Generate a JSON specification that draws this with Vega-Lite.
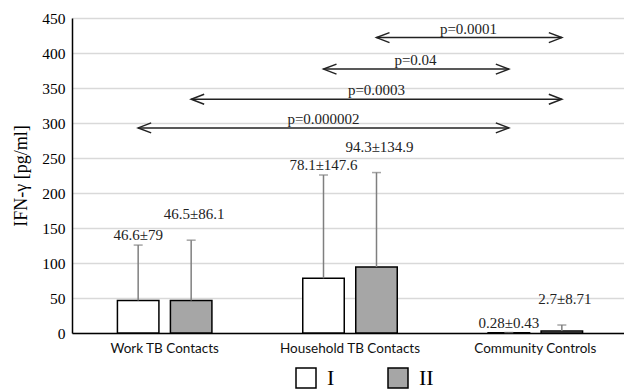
{
  "$schema": "https://vega.github.io/schema/vega-lite/v6.json",
  "width": 556,
  "height": 315,
  "autosize": "none",
  "padding": {"left": 72, "top": 18, "right": 0, "bottom": 59},
  "config": {
    "view": {"stroke": null},
    "axisY": {"values": [0, 50, 100, 150, 200, 250, 300, 350, 400, 450], "ticks": false, "tickSize": 0, "labelPadding": 7, "labelFont": "Liberation Serif", "labelFontSize": 15.5, "labelColor": "#000", "domainColor": "#000", "domainWidth": 1.5, "gridColor": "#d9d9d9", "gridWidth": 1.5, "titleFont": "Liberation Serif", "titleFontSize": 18, "titleFontWeight": "normal", "titleColor": "#000", "titlePadding": 11}
  },
  "datasets": {
    "bars": [
      {"group": "Work TB Contacts", "series": "I", "mean": 46.6, "upper": 125.6, "label": "46.6±79"},
      {"group": "Work TB Contacts", "series": "II", "mean": 46.5, "upper": 132.6, "label": "46.5±86.1"},
      {"group": "Household TB Contacts", "series": "I", "mean": 78.1, "upper": 225.7, "label": "78.1±147.6"},
      {"group": "Household TB Contacts", "series": "II", "mean": 94.3, "upper": 229.2, "label": "94.3±134.9"},
      {"group": "Community Controls", "series": "I", "mean": 0.28, "upper": 0.71, "label": "0.28±0.43"},
      {"group": "Community Controls", "series": "II", "mean": 2.7, "upper": 11.41, "label": "2.7±8.71"}
    ],
    "brackets": [
      {"comp": "c1", "group": "Household TB Contacts", "series": "II", "level": 422, "side": "L"},
      {"comp": "c1", "group": "Community Controls", "series": "II", "level": 422, "side": "R"},
      {"comp": "c2", "group": "Household TB Contacts", "series": "I", "level": 377, "side": "L"},
      {"comp": "c2", "group": "Community Controls", "series": "I", "level": 377, "side": "R"},
      {"comp": "c3", "group": "Work TB Contacts", "series": "II", "level": 334, "side": "L"},
      {"comp": "c3", "group": "Community Controls", "series": "II", "level": 334, "side": "R"},
      {"comp": "c4", "group": "Work TB Contacts", "series": "I", "level": 293, "side": "L"},
      {"comp": "c4", "group": "Community Controls", "series": "I", "level": 293, "side": "R"}
    ],
    "plabels": [
      {"comp": "c1", "group": "Household TB Contacts", "series": "II", "level": 422, "label": "p=0.0001"},
      {"comp": "c2", "group": "Household TB Contacts", "series": "I", "level": 377, "label": "p=0.04"},
      {"comp": "c3", "group": "Household TB Contacts", "series": "II", "level": 334, "label": "p=0.0003"},
      {"comp": "c4", "group": "Household TB Contacts", "series": "I", "level": 293, "label": "p=0.000002"}
    ]
  },
  "encoding": {
    "x": {
      "field": "group", "type": "nominal",
      "sort": ["Work TB Contacts", "Household TB Contacts", "Community Controls"],
      "scale": {"paddingInner": 0, "paddingOuter": 0},
      "title": null,
      "axis": {"labelAngle": 0, "labelFont": "Lato", "labelFontSize": 13.5, "labelColor": "#111", "labelPadding": 8, "ticks": false, "domainColor": "#000", "domainWidth": 1.5, "grid": false}
    },
    "xOffset": {
      "field": "series", "type": "nominal", "sort": ["I", "II"],
      "scale": {"paddingInner": 0.217, "paddingOuter": 0.857}
    }
  },
  "layer": [
    {
      "data": {"name": "bars"},
      "mark": {"type": "bar", "stroke": "#000", "strokeWidth": 1.5},
      "encoding": {
        "y": {
          "field": "mean", "type": "quantitative",
          "scale": {"domain": [0, 450], "nice": false},
          "title": "IFN-γ [pg/ml]"
        },
        "fill": {
          "field": "series", "type": "nominal", "sort": ["I", "II"],
          "scale": {"domain": ["I", "II"], "range": ["#ffffff", "#a6a6a6"]},
          "legend": {"orient": "none", "legendX": 223, "legendY": 349, "direction": "horizontal", "title": null, "symbolType": "square", "symbolSize": 400, "symbolStrokeColor": "#000", "symbolStrokeWidth": 1.5, "labelFont": "Liberation Serif", "labelFontSize": 22, "labelColor": "#000", "labelOffset": 10, "columnPadding": 50}
        }
      }
    },
    {
      "data": {"name": "bars"},
      "mark": {"type": "rule", "color": "#7f7f7f", "strokeWidth": 1.5},
      "encoding": {
        "y": {"field": "mean", "type": "quantitative", "title": "IFN-γ [pg/ml]"},
        "y2": {"field": "upper"}
      }
    },
    {
      "data": {"name": "bars"},
      "mark": {"type": "tick", "orient": "horizontal", "color": "#7f7f7f", "size": 9, "thickness": 1.5},
      "encoding": {
        "y": {"field": "upper", "type": "quantitative", "title": "IFN-γ [pg/ml]"}
      }
    },
    {
      "data": {"name": "bars"},
      "transform": [{"filter": "datum.series == 'I'"}],
      "mark": {"type": "text", "font": "Liberation Serif", "fontSize": 15, "color": "#222", "baseline": "alphabetic", "dy": -5},
      "encoding": {
        "y": {"field": "upper", "type": "quantitative", "title": "IFN-γ [pg/ml]"},
        "text": {"field": "label"}
      }
    },
    {
      "data": {"name": "bars"},
      "transform": [{"filter": "datum.series == 'II'"}],
      "mark": {"type": "text", "font": "Liberation Serif", "fontSize": 15, "color": "#222", "baseline": "alphabetic", "dy": -21, "dx": 3},
      "encoding": {
        "y": {"field": "upper", "type": "quantitative", "title": "IFN-γ [pg/ml]"},
        "text": {"field": "label"}
      }
    },
    {
      "data": {"name": "brackets"},
      "mark": {"type": "line", "color": "#222", "strokeWidth": 1.5},
      "encoding": {
        "y": {"field": "level", "type": "quantitative", "title": "IFN-γ [pg/ml]"},
        "detail": {"field": "comp"}
      }
    },
    {
      "data": {"name": "brackets"},
      "mark": {"type": "point", "filled": false, "color": "#222", "strokeWidth": 1.5, "size": 100, "opacity": 1},
      "encoding": {
        "y": {"field": "level", "type": "quantitative", "title": "IFN-γ [pg/ml]"},
        "shape": {
          "field": "side", "type": "nominal",
          "scale": {"domain": ["L", "R"], "range": ["M2.6,-1L0,0L2.6,1", "M-2.6,-1L0,0L-2.6,1"]},
          "legend": null
        }
      }
    },
    {
      "data": {"name": "plabels"},
      "transform": [{"filter": "datum.comp == 'c1' || datum.comp == 'c2'"}],
      "mark": {"type": "text", "font": "Liberation Serif", "fontSize": 15, "color": "#222", "baseline": "alphabetic", "dy": -4, "dx": 92},
      "encoding": {
        "y": {"field": "level", "type": "quantitative", "title": "IFN-γ [pg/ml]"},
        "text": {"field": "label"}
      }
    },
    {
      "data": {"name": "plabels"},
      "transform": [{"filter": "datum.comp == 'c3' || datum.comp == 'c4'"}],
      "mark": {"type": "text", "font": "Liberation Serif", "fontSize": 15, "color": "#222", "baseline": "alphabetic", "dy": -4},
      "encoding": {
        "y": {"field": "level", "type": "quantitative", "title": "IFN-γ [pg/ml]"},
        "text": {"field": "label"}
      }
    }
  ]
}
